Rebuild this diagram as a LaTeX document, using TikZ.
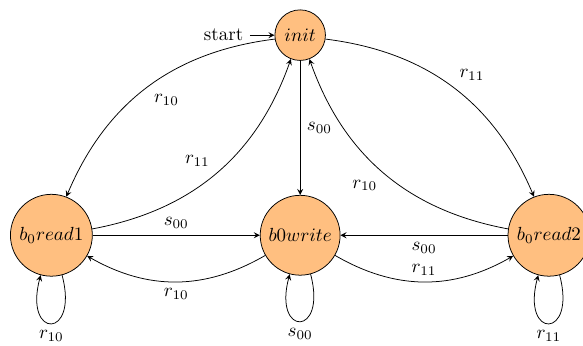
\documentclass[tikz,border=0pt]{standalone}
\usepackage{tikz}
\usetikzlibrary{automata,positioning}
\tikzset{
  stnode/.style={state,fill=orange!50},
  trans/.style={->,auto},
}
\begin{document}
\begin{tikzpicture}[>=stealth]
  \useasboundingbox (-5.55,-2.03) rectangle (5.23,4.35);
  \node[stnode,initial,initial text=start] (init) at (0,3.7) {$init$};
  \node[stnode] (rd1) at (-4.6,0) {$b_0read1$};
  \node[stnode] (wr) at (0,0) {$b0write$};
  \node[stnode] (rd2) at (4.6,0) {$b_0read2$};
  \draw[trans] (init) to[bend right] node {$r_{10}$} (rd1);
  \draw[trans] (rd1) to[bend right] node {$r_{11}$} (init);
  \draw[trans] (init) to node {$s_{00}$} (wr);
  \draw[trans] (init) to[bend left] node {$r_{11}$} (rd2);
  \draw[trans] (rd2) to[bend left] node {$r_{10}$} (init);
  \draw[trans] (rd1) to node {$s_{00}$} (wr);
  \draw[trans] (wr) to[bend left] node {$r_{10}$} (rd1);
  \draw[trans] (rd2) to node {$s_{00}$} (wr);
  \draw[trans] (wr) to[bend right] node {$r_{11}$} (rd2);
  \draw[trans] (rd1) to[loop below] node {$r_{10}$} (rd1);
  \draw[trans] (wr) to[loop below] node {$s_{00}$} (wr);
  \draw[trans] (rd2) to[loop below] node {$r_{11}$} (rd2);
\end{tikzpicture}
\end{document}
